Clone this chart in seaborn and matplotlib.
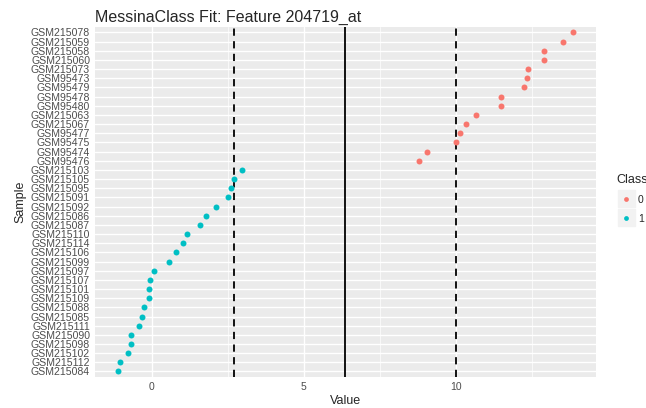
import pandas as pd
import matplotlib.pyplot as plt
import seaborn as sns
from matplotlib.patches import Rectangle

# samples listed top to bottom as drawn
samples = [
    "GSM215078", "GSM215059", "GSM215058", "GSM215060", "GSM215073",
    "GSM95473", "GSM95479", "GSM95478", "GSM95480", "GSM215063",
    "GSM215067", "GSM95477", "GSM95475", "GSM95474", "GSM95476",
    "GSM215103", "GSM215105", "GSM215095", "GSM215091", "GSM215092",
    "GSM215086", "GSM215087", "GSM215110", "GSM215114", "GSM215106",
    "GSM215099", "GSM215097", "GSM215107", "GSM215101", "GSM215109",
    "GSM215088", "GSM215085", "GSM215111", "GSM215090", "GSM215098",
    "GSM215102", "GSM215112", "GSM215084",
]
values = [
    13.87, 13.52, 12.91, 12.89, 12.38, 12.34, 12.24, 11.49, 11.49, 10.68,
    10.32, 10.13, 9.99, 9.05, 8.80,
    2.97, 2.72, 2.60, 2.49, 2.11, 1.77, 1.58, 1.15, 1.01, 0.80,
    0.56, 0.07, -0.06, -0.08, -0.09, -0.25, -0.31, -0.42, -0.67, -0.68,
    -0.78, -1.04, -1.12,
]
classes = ["0"] * 15 + ["1"] * 23

lower_threshold = 2.70
midpoint = 6.35
upper_threshold = 10.0

df = pd.DataFrame({"Sample": samples, "Value": values, "Class": classes})

sns.set_style("darkgrid", {"axes.facecolor": "#EBEBEB", "grid.color": "white"})
plt.rcParams["font.family"] = ["Liberation Sans", "DejaVu Sans"]

fig = plt.figure(figsize=(6.46, 4.08), dpi=100)
ax = fig.add_axes([0.147, 0.076, 0.776, 0.858])

sns.stripplot(
    data=df, x="Value", y="Sample", hue="Class", order=samples,
    hue_order=["0", "1"], palette={"0": "#F8766D", "1": "#00BFC4"},
    jitter=False, size=4.3, linewidth=0, orient="h", ax=ax, zorder=3,
)

ax.axvline(lower_threshold, color="black", linestyle=(0, (4, 3)), lw=1.3, zorder=2)
ax.axvline(midpoint, color="black", linestyle="-", lw=1.3, zorder=2)
ax.axvline(upper_threshold, color="black", linestyle=(0, (4, 3)), lw=1.3, zorder=2)

ax.set_xlim(-1.87, 14.62)
ax.set_ylim(len(samples) - 0.4, -0.6)
ax.set_xticks([0, 5, 10])
ax.set_xticks([2.5, 7.5, 12.5], minor=True)
ax.grid(which="major", color="white", lw=1.0)
ax.grid(which="minor", axis="x", color="white", lw=0.5)
for s in ax.spines.values():
    s.set_visible(False)

ax.tick_params(axis="both", which="major", length=2.5, width=0.8, color="#333333",
               labelcolor="#4D4D4D", pad=1.0)
ax.tick_params(axis="y", labelsize=7.6)
ax.tick_params(axis="x", labelsize=7.5)
ax.tick_params(which="minor", length=0)

ax.set_xlabel("Value", fontsize=9, labelpad=2)
ax.set_ylabel("Sample", fontsize=9, labelpad=3)
ax.set_title("MessinaClass Fit: Feature 204719_at", fontsize=11.5, loc="left",
             x=0.0, pad=4)

# grey legend key backgrounds, ggplot style
for top in (190, 209):
    fig.add_artist(Rectangle((618 / 646, 1 - (top + 17) / 408), 17 / 646, 17 / 408,
                             transform=fig.transFigure, color="#F2F2F2", zorder=0))

handles, labels = ax.get_legend_handles_labels()
ax.get_legend().remove()
leg = fig.legend(handles, labels, title="Class", loc="upper left",
                 bbox_to_anchor=(616 / 646, 1 - 174 / 408), frameon=False,
                 fontsize=7.5, title_fontsize=9, handletextpad=0.1,
                 handlelength=2.0, labelspacing=0.85, markerscale=0.8,
                 borderpad=0, borderaxespad=0, alignment="left")

plt.savefig("out.png", dpi=100)
